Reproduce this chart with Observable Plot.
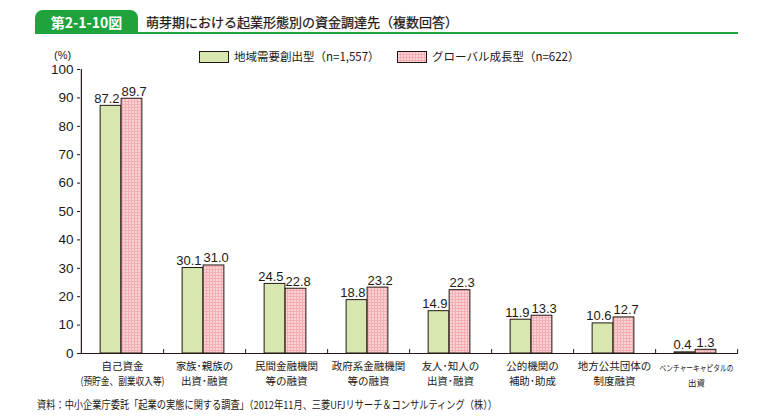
<!DOCTYPE html>
<html>
<head>
<meta charset="utf-8">
<script src="https://cdn.jsdelivr.net/npm/d3@7"></script>
<script src="https://cdn.jsdelivr.net/npm/@observablehq/plot@0.6"></script>
<style>
  body { margin: 0; background: #fff; }
  #wrap { position: relative; width: 777px; height: 416px; overflow: hidden;
    font-family: "Liberation Sans", "Noto Sans CJK JP", sans-serif; color: #231815; }
  #wrap svg { position: absolute; left: 0; top: 0; }
  .abs { position: absolute; white-space: nowrap; }
  #tab { left: 35px; top: 10px; width: 103px; height: 24px; background: #1fa33d;
    border-radius: 8px 8px 0 0; color: #fff; font-weight: bold; font-size: 14px;
    line-height: 24px; text-align: center; font-family: "Noto Sans CJK JP", sans-serif; }
  #tline { left: 35px; top: 32px; width: 703px; height: 2px; background: #1fa33d; }
  #title { left: 146px; top: 11px; font-size: 13px; line-height: 22px; font-weight: normal; color: #231815;
    font-family: "Noto Sans CJK JP", sans-serif; -webkit-text-stroke: 0.25px #231815; }
  .sw { position: absolute; width: 28px; height: 10px; border: 1px solid #231815; overflow: hidden; }
  .lt { position: absolute; font-size: 11.5px; line-height: 14px; font-family: "Noto Sans CJK JP", sans-serif; }
  #pct { left: 54px; top: 49px; font-size: 11px; }
  #src { left: 37px; top: 396px; font-size: 11px; transform-origin: 0 0; font-family: "Noto Sans CJK JP", sans-serif; }
</style>
</head>
<body>
<div id="wrap">
  <div id="tab" class="abs">第2-1-10図</div>
  <div id="tline" class="abs"></div>
  <div id="title" class="abs">萌芽期における起業形態別の資金調達先（複数回答）</div>
  <div class="sw" style="left:199px;top:51px;background:#d8e6b0;"></div>
  <div class="lt" style="left:234px;top:49px;">地域需要創出型（n=1,557）</div>
  <div class="sw" id="pinksw" style="left:397px;top:51px;"></div>
  <div class="lt" style="left:432px;top:49px;">グローバル成長型（n=622）</div>
  <div id="pct" class="abs">(%)</div>
  <div id="src" class="abs">資料：中小企業庁委託「起業の実態に関する調査」（2012年11月、三菱UFJリサーチ＆コンサルティング（株））</div>
</div>
<script>
const categories = ["自己資金", "家族・親族", "民間金融機関", "政府系金融機関", "友人・知人", "公的機関", "地方公共団体", "VC"];
const categoryLabels = [
  "自己資金\n(預貯金、副業収入等)",
  "家族･親族の\n出資･融資",
  "民間金融機関\n等の融資",
  "政府系金融機関\n等の融資",
  "友人･知人の\n出資･融資",
  "公的機関の\n補助･助成",
  "地方公共団体の\n制度融資",
  "ベンチャーキャピタルの\n出資"
];
const seriesNames = ["地域需要創出型（n=1,557）", "グローバル成長型（n=622）"];
const regionalValues = [87.2, 30.1, 24.5, 18.8, 14.9, 11.9, 10.6, 0.4];
const globalValues = [89.7, 31.0, 22.8, 23.2, 22.3, 13.3, 12.7, 1.3];
const yTicks = [0, 10, 20, 30, 40, 50, 60, 70, 80, 90, 100];

const W = 777, H = 416, mL = 80, mR = 39, mT = 69, mB = 63;
const bw = (W - mL - mR) / categories.length;
const barW = 21;
const half = bw / 2;
const shift = 1; // bars sit ~1px left of band centre

const regional = categories.map((c, i) => ({c, i, v: regionalValues[i], s: seriesNames[0]}));
const global = categories.map((c, i) => ({c, i, v: globalValues[i], s: seriesNames[1]}));
const labelData = categories.map((c, i) => ({c, t: categoryLabels[i]}));
const last = categories.length - 1;

const plot = Plot.plot({
  width: W, height: H,
  marginLeft: mL, marginRight: mR, marginTop: mT, marginBottom: mB,
  style: {fontFamily: '"Liberation Sans", "Noto Sans CJK JP", sans-serif', color: "#231815", background: "transparent"},
  x: {domain: categories, padding: 0, axis: null},
  y: {domain: [0, 100], axis: null},
  marks: [
    Plot.barY(regional, {x: "c", y: "v", fill: "#d8e6b0", stroke: "#231815", strokeWidth: 1,
      insetLeft: half - barW - shift, insetRight: half + shift}),
    Plot.barY(global, {x: "c", y: "v", fill: "url(#pinkPat)", stroke: "#231815", strokeWidth: 1,
      insetLeft: half - shift, insetRight: half - barW + shift}),
    // value labels (pairs pushed apart around the pair centre)
    Plot.text(regional.filter(d => d.i < last), {x: "c", y: "v", text: d => d.v.toFixed(1), dx: -shift - 2, dy: -3,
      textAnchor: "end", lineAnchor: "bottom", fontSize: 13, fill: "#231815"}),
    Plot.text(global.filter(d => d.i < last), {x: "c", y: "v", text: d => d.v.toFixed(1), dx: -shift, dy: -3,
      textAnchor: "start", lineAnchor: "bottom", fontSize: 13, fill: "#231815"}),
    Plot.text(regional.filter(d => d.i === last), {x: "c", y: "v", text: d => d.v.toFixed(1), dx: -shift - 13, dy: -3,
      lineAnchor: "bottom", fontSize: 13, fill: "#231815"}),
    Plot.text(global.filter(d => d.i === last), {x: "c", y: "v", text: d => d.v.toFixed(1), dx: -shift + 10, dy: -3,
      lineAnchor: "bottom", fontSize: 13, fill: "#231815"}),
    Plot.ruleY([0], {stroke: "#231815", strokeWidth: 1.2}),
    Plot.ruleX([categories[0]], {y1: 0, y2: 100, dx: -half, stroke: "#231815", strokeWidth: 1.2}),
    Plot.ruleX(categories, {y1: 0, y2: 1.4, dx: half, stroke: "#231815", strokeWidth: 1}),
    Plot.axisY({ticks: yTicks, tickSize: 3, tickPadding: 4, fontSize: 13.5, stroke: "#231815", fill: "#231815", label: null}),
    Plot.text(labelData.filter((d, i) => i < last), {x: "c", y: 0, text: "t", dy: 6, lineAnchor: "top",
      fontSize: 10.5, lineHeight: 1.42, fill: "#231815", fontFamily: '"Noto Sans CJK JP", sans-serif'}),
    Plot.text(labelData.filter((d, i) => i === last), {x: "c", y: 0, text: "t", dy: 7, lineAnchor: "top",
      fontSize: 8.5, lineHeight: 1.75, fill: "#231815", fontFamily: '"Noto Sans CJK JP", sans-serif'})
  ]
});

// Pattern definition for pink hatched fill
const ns = "http://www.w3.org/2000/svg";
const defs = document.createElementNS(ns, "defs");
defs.innerHTML = `<pattern id="pinkPat" width="3" height="3" patternUnits="userSpaceOnUse">
  <rect width="3" height="3" fill="#f4adb3"/>
  <rect x="0" y="0" width="2" height="2" fill="#fbd3d5"/>
</pattern>`;
plot.insertBefore(defs, plot.firstChild);
document.getElementById("wrap").appendChild(plot);

// condense the long axis label lines to the reference widths
const fitWidths = {"(預貯金、副業収入等)": 84, "ベンチャーキャピタルの": 74};
plot.querySelectorAll("tspan, text").forEach(el => {
  const w = fitWidths[el.textContent];
  if (w && el.children.length === 0) {
    el.setAttribute("textLength", w);
    el.setAttribute("lengthAdjust", "spacingAndGlyphs");
  }
});

// legend swatch pattern
const sw = document.getElementById("pinksw");
sw.innerHTML = `<svg width="28" height="10" style="position:absolute;left:0;top:0"><rect width="28" height="10" fill="url(#pinkPat)"/></svg>`;

// fit source line to reference width
const src = document.getElementById("src");
const sw2 = src.getBoundingClientRect().width;
src.style.transform = `scaleX(${460 / sw2})`;
</script>
</body>
</html>
